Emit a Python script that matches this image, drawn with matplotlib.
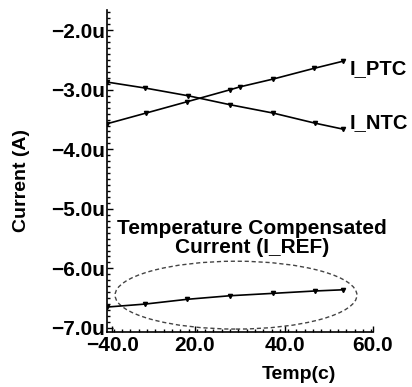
import matplotlib
matplotlib.use('Agg')
import matplotlib.pyplot as plt
from matplotlib.patches import Ellipse
from matplotlib.ticker import MultipleLocator, FuncFormatter

matplotlib.rcParams['font.family'] = 'Liberation Sans'
matplotlib.rcParams['font.weight'] = 'bold'

# data (current in uA)
temp = [-40.0, -25.3, -9.9, 6.2, 10.0, 22.4, 37.8, 48.7]
i_ptc = [-3.57, -3.39, -3.20, -3.00, -2.95, -2.82, -2.64, -2.52]

temp_ntc = [-40.0, -25.7, -9.5, 6.2, 22.4, 38.2, 48.7]
i_ntc = [-2.87, -2.97, -3.10, -3.25, -3.39, -3.56, -3.66]

temp_ref = [-40.0, -25.7, -9.9, 6.2, 22.4, 38.2, 48.7]
i_ref = [-6.65, -6.60, -6.52, -6.46, -6.42, -6.38, -6.36]

xtick_pos = [-38, -7, 27, 60]
xtick_labels = ['\u221240.0', '20.0', '40.0', '60.0']
yticks = [-2, -3, -4, -5, -6, -7]

fig = plt.figure(figsize=(4.12, 3.87), dpi=100)
ax = fig.add_axes([0.26, 0.142, 0.645, 0.832])

ax.plot(temp, i_ptc, color='black', lw=1.2, marker='v', ms=3)
ax.plot(temp_ntc, i_ntc, color='black', lw=1.2, marker='v', ms=3)
ax.plot(temp_ref, i_ref, color='black', lw=1.2, marker='v', ms=3)

ax.annotate('I_PTC', xy=(temp[-1], i_ptc[-1]), xytext=(5, -5), textcoords='offset points',
            ha='left', va='center', fontsize=14.5, fontweight='bold')
ax.annotate('I_NTC', xy=(temp_ntc[-1], i_ntc[-1]), xytext=(5, 5), textcoords='offset points',
            ha='left', va='center', fontsize=14.5, fontweight='bold')

ax.add_patch(Ellipse((8.5, -6.45), 91, 1.14, fill=False, ls=(0, (3, 2)), lw=1, color='#444444'))
ax.text(14.5, -5.49, 'Temperature Compensated\nCurrent (I_REF)', ha='center', va='center',
        fontsize=15, fontweight='bold', linespacing=0.95)

ax.set_xlim(-40, 60)
ax.set_ylim(-7.07, -1.66)
ax.set_xticks(xtick_pos)
ax.set_xticklabels(xtick_labels)
ax.set_yticks(yticks)
ax.yaxis.set_major_formatter(FuncFormatter(lambda v, p: f'{v:.1f}u'.replace('-', '\u2212')))
ax.xaxis.set_minor_locator(MultipleLocator(3.125))
ax.yaxis.set_minor_locator(MultipleLocator(0.1))
ax.tick_params(which='both', direction='in', labelsize=15, width=1)
ax.tick_params(which='major', length=4)
ax.tick_params(which='minor', length=2.5)
ax.tick_params(axis='y', pad=1.5)
ax.tick_params(axis='x', pad=3)

for s in ['top', 'right']:
    ax.spines[s].set_visible(False)
for s in ['left', 'bottom']:
    ax.spines[s].set_linewidth(1.2)

ax.set_xlabel('Temp(c)', fontsize=14, fontweight='bold')
ax.xaxis.set_label_coords(0.72, -0.105)
ax.set_ylabel('Current (A)', fontsize=14, fontweight='bold')
ax.yaxis.set_label_coords(-0.29, 0.47)

fig.savefig('out.png', dpi=100)
